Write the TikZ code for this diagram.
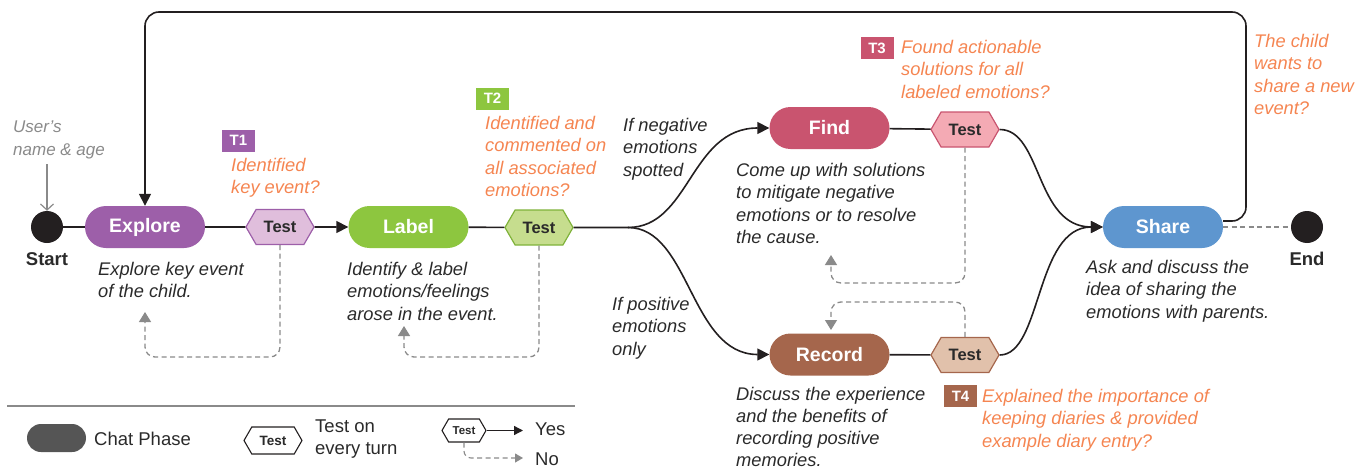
\documentclass[tikz,border=0pt]{standalone}
\usepackage{fontspec}
\setmainfont{Liberation Sans}
\usetikzlibrary{shapes.misc,shapes.symbols,arrows.meta}
\definecolor{purp}{HTML}{9D5FA9}
\definecolor{purpl}{HTML}{E0BEDC}
\definecolor{grn}{HTML}{8DC63F}
\definecolor{grnl}{HTML}{C6DD8E}
\definecolor{grnd}{HTML}{7FB23A}
\definecolor{pinkr}{HTML}{C9546F}
\definecolor{pinkl}{HTML}{F4AAB4}
\definecolor{brwn}{HTML}{A5664C}
\definecolor{brwnl}{HTML}{E1C1AB}
\definecolor{blu}{HTML}{5E96CF}
\definecolor{orng}{HTML}{F58551}
\definecolor{dtext}{HTML}{2A2A2A}
\definecolor{fbgray}{HTML}{8A8A8A}
\definecolor{legdark}{HTML}{555555}
\definecolor{dotc}{HTML}{231F20}
\begin{document}
\begin{tikzpicture}[x=1pt,y=-1pt,
  phase/.style={rounded rectangle, minimum width=120pt, minimum height=42pt, inner sep=0pt, text=white, font=\fontsize{19.5}{19.5}\selectfont\bfseries},
  testhex/.style={signal, signal to=east and west, signal pointer angle=120, minimum width=68pt, minimum height=35pt, inner sep=0pt, line width=1.2pt, text=dtext, font=\fontsize{16.5}{16.5}\selectfont\bfseries},
  desc/.style={align=left, anchor=north west, inner sep=0pt, text=dtext, font=\fontsize{18.3}{22.5}\selectfont\itshape},
  cond/.style={desc, text=orng},
  tagbox/.style={text=white, minimum width=33pt, minimum height=22pt, inner sep=0pt, font=\fontsize{15}{15}\selectfont\bfseries},
  flow/.style={draw=dotc, line width=1.6pt},
  arr/.style={flow, -{Triangle[length=12pt,width=12pt]}},
  fb/.style={draw=fbgray, line width=1.3pt, dash pattern=on 5pt off 3.5pt, rounded corners=10pt, -{Triangle[length=10pt,width=12pt]}},
  dot/.style={circle, fill=dotc, minimum size=32pt, inner sep=0pt},
  dotlabel/.style={text=dtext, font=\fontsize{18.5}{18.5}\selectfont\bfseries},
  legtext/.style={anchor=west, align=left, inner sep=0pt, text=dtext, font=\fontsize{18.5}{22}\selectfont}
]
\useasboundingbox (0,0) rectangle (1361,471);

% main nodes
\node[dot] (start) at (47,227) {};
\node[dotlabel] (startl) at (47,259) {Start};
\node[phase, fill=purp] (explore) at (145,227) {Explore};
\node[testhex, fill=purpl, draw=purp] (t1) at (280,227) {Test};
\node[phase, fill=grn] (label) at (408.5,227) {Label};
\node[testhex, fill=grnl, draw=grnd] (t2) at (539,227.5) {Test};
\node[phase, fill=pinkr] (find) at (829.5,128) {Find};
\node[testhex, fill=pinkl, draw=pinkr] (t3) at (965,129.5) {Test};
\node[phase, fill=brwn] (record) at (829.5,354.5) {Record};
\node[testhex, fill=brwnl, draw=brwn] (t4) at (965,355) {Test};
\node[phase, fill=blu] (share) at (1163,227) {Share};
\node[dot] (end) at (1307,227) {};
\node[dotlabel] (endl) at (1307,259) {End};

% tags
\node[tagbox, fill=purp] (tag1) at (238.5,140.5) {T1};
\node[tagbox, fill=grn] (tag2) at (492.5,98.5) {T2};
\node[tagbox, fill=pinkr] (tag3) at (877,48) {T3};
\node[tagbox, fill=brwn] (tag4) at (960.5,396) {T4};

% orange conditions
\node[cond] (c1) at (231,158) {Identified\\key event?};
\node[cond] (c2) at (485,116) {Identified and\\commented on\\all associated\\emotions?};
\node[cond] (c3) at (901,40) {Found actionable\\solutions for all\\labeled emotions?};
\node[cond] (c4) at (982,389) {Explained the importance of\\keeping diaries \& provided\\example diary entry?};
\node[cond] (c5) at (1254,34) {The child\\wants to\\share a new\\event?};

% descriptions
\node[desc, text=fbgray, font=\fontsize{17}{22.5}\selectfont\itshape] (user) at (13,121) {User’s\\name \& age};
\node[desc] (d1) at (98,262) {Explore key event\\of the child.};
\node[desc] (d2) at (347,262) {Identify \& label\\emotions/feelings\\arose in the event.};
\node[desc] (neg) at (623,118) {If negative\\emotions\\spotted};
\node[desc] (pos) at (612,297) {If positive\\emotions\\only};
\node[desc] (d3) at (736,163) {Come up with solutions\\to mitigate negative\\emotions or to resolve\\the cause.};
\node[desc, font=\fontsize{18.3}{22.1}\selectfont\itshape] (d4) at (736,387) {Discuss the experience\\and the benefits of\\recording positive\\memories.};
\node[desc] (d5) at (1086,260) {Ask and discuss the\\idea of sharing the\\emotions with parents.};

% user arrow
\coordinate (ua) at (47,164);
\draw[fbgray, line width=1.2pt, -{Straight Barb[length=6pt,width=13pt]}] (ua) -- (start.north);

% flow
\draw[flow] (start) -- (explore);
\draw[flow] (explore) -- (t1);
\draw[arr] (t1) -- (label);
\draw[flow] (label) -- (t2);
\coordinate (split) at (628,227.5);
\draw[flow] (t2) -- (split);
\draw[arr] (split) .. controls (690,227.5) and (690,128) .. (find.west);
\draw[arr] (split) .. controls (690,227.5) and (690,354.5) .. (record.west);
\draw[flow] (find) -- (t3);
\draw[flow] (record) -- (t4);
\draw[arr] (t3.east) .. controls (1042,129.5) and (1035,227) .. (share.west);
\draw[arr] (t4.east) .. controls (1042,355) and (1035,227) .. (share.west);

% loop back
\coordinate (lr) at (1246,221);
\coordinate (tr) at (1246,12);
\coordinate (tl) at (145,12);
\draw[arr, rounded corners=14pt] ([yshift=6pt]share.east) -- (lr) -- (tr) -- (tl) -- (explore.north);

% end
\draw[draw=fbgray, line width=1.3pt, dash pattern=on 5pt off 3.5pt] (share.east) -- (end.west);

% feedback loops
\coordinate (f1a) at (280,357);
\coordinate (f1b) at (145,357);
\coordinate (f1c) at (145,312);
\draw[fb] (t1.south) -- (f1a) -- (f1b) -- (f1c);
\coordinate (f2a) at (539,357);
\coordinate (f2b) at (404,357);
\coordinate (f2c) at (404,326);
\draw[fb] (t2.south) -- (f2a) -- (f2b) -- (f2c);
\coordinate (f3a) at (965,283);
\coordinate (f3b) at (831,283);
\coordinate (f3c) at (831,255);
\draw[fb] (t3.south) -- (f3a) -- (f3b) -- (f3c);
\coordinate (f4a) at (965,302);
\coordinate (f4b) at (831,302);
\coordinate (f4c) at (831,330);
\draw[fb] (t4.north) -- (f4a) -- (f4b) -- (f4c);

% legend
\coordinate (lg1) at (7,406);
\coordinate (lg2) at (575,406);
\draw[fbgray, line width=1.2pt] (lg1) -- (lg2);
\node[rounded rectangle, fill=legdark, minimum width=59pt, minimum height=28pt, inner sep=0pt] (lgpill) at (56.5,438) {};
\node[legtext] (lgpt) at (94,439) {Chat Phase};
\node[testhex, fill=white, draw=dotc, minimum width=58pt, minimum height=27pt, line width=1.1pt, font=\fontsize{13.5}{13.5}\selectfont\bfseries] (lghex) at (273,440.5) {Test};
\node[legtext] (lght) at (315,439) {Test on\\every turn};
\node[testhex, fill=white, draw=dotc, minimum width=44pt, minimum height=23pt, line width=1.1pt, font=\fontsize{11.5}{11.5}\selectfont\bfseries] (lghex2) at (464,430.5) {Test};
\coordinate (yesend) at (523,430.5);
\coordinate (noend) at (523,458);
\draw[flow, line width=1.3pt, -{Triangle[length=9pt,width=9pt]}] (lghex2.east) -- (yesend);
\draw[fb, line width=1.1pt, rounded corners=7pt, -{Triangle[length=8pt,width=9pt]}] (lghex2.south) |- (noend);
\node[legtext] (yes) at (535,429) {Yes};
\node[legtext] (no) at (535,459) {No};
\end{tikzpicture}
\end{document}
